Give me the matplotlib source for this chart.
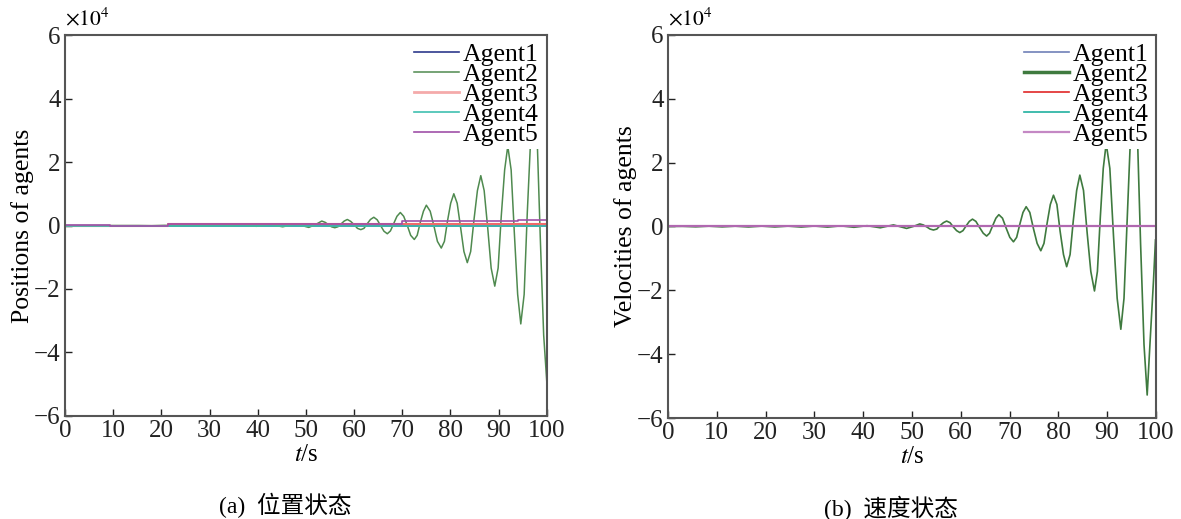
import matplotlib
matplotlib.use('Agg')
import matplotlib.pyplot as plt

plt.rcParams['font.family'] = ['Liberation Serif', 'Noto Sans CJK SC']
plt.rcParams['mathtext.fontset'] = 'stix'

agents = ['Agent1', 'Agent2', 'Agent3', 'Agent4', 'Agent5']
x_ticks = [0, 10, 20, 30, 40, 50, 60, 70, 80, 90, 100]
y_ticks = [-6, -4, -2, 0, 2, 4, 6]

# (a) positions, values in units of 1e4
pos_t_green = [0, 1.7, 4.4, 7.1, 9.8, 12.6, 15.3, 18.0, 20.7, 23.4, 26.2, 28.9, 31.6,
               34.3, 37.0, 39.7, 42.5, 45.2, 47.9, 50.6, 52.0,
               53.3, 54.0, 54.65, 55.3, 56.0, 56.65, 57.3, 57.95, 58.6, 59.3, 60.0, 60.7,
               61.4, 62.05, 62.75, 63.4, 64.1, 64.8, 65.5, 66.2, 66.9, 67.55, 68.25, 68.9,
               69.6, 70.3, 71.05, 71.75, 72.5, 73.1, 73.75, 74.4, 75.0, 75.8, 76.55, 77.3,
               78.1, 78.75, 79.4, 80.05, 80.7, 81.4, 82.1, 82.8, 83.5, 84.2, 84.9, 85.6,
               86.3, 87.0, 87.75, 88.45, 89.2, 89.9, 90.55, 91.25, 91.9, 92.6, 93.25, 93.95,
               94.6, 95.3, 95.95, 96.65, 97.3, 98.0, 98.65, 99.35, 100]
pos_y_green = [0, 0.0, 0.0, 0.0, 0.0, 0.0, 0.0, -0.005, 0.005, -0.006, 0.008, -0.01, 0.012,
               -0.015, 0.02, -0.025, 0.03, -0.04, 0.05, -0.06, 0.03,
               0.14, 0.10, 0.03, -0.04, -0.07, -0.04, 0.05, 0.14, 0.19, 0.13, 0.03, -0.09,
               -0.13, -0.09, 0.06, 0.19, 0.26, 0.18, 0.0, -0.18, -0.26, -0.17, 0.07, 0.29,
               0.41, 0.29, 0.0, -0.31, -0.44, -0.31, 0.1, 0.45, 0.64, 0.45, 0.0, -0.5,
               -0.71, -0.5, 0.15, 0.7, 1.0, 0.7, -0.05, -0.82, -1.17, -0.82, 0.2, 1.1,
               1.57, 1.1, -0.1, -1.34, -1.91, -1.34, 0.3, 1.75, 2.5, 1.75, -0.2, -2.17,
               -3.1, -2.17, 0.4, 2.73, 3.9, 2.73, -0.4, -3.45, -4.93]
pos_t_flat = [0, 100]
pos_y_flat = [0, 0]
pos_t_red = [0, 21.4, 21.4, 100]
pos_y_red = [0, 0, 0.04, 0.04]
pos_t_purple = [0, 9.3, 9.3, 21.4, 21.4, 69.9, 69.9, 94, 94, 100]
pos_y_purple = [0.02, 0.02, 0.0, 0.0, 0.06, 0.06, 0.13, 0.13, 0.17, 0.17]

# (b) velocities, values in units of 1e4
vel_t_green = [0, 3.0, 5.7, 8.4, 11.1, 13.8, 16.5, 19.2, 21.9, 24.6, 27.3, 30.0, 32.7,
               35.4, 38.1, 40.8, 43.5, 46.2, 48.9, 50.25,
               51.6, 52.3, 53.0, 53.7, 54.4, 55.1, 55.75, 56.45, 57.1, 57.8, 58.45, 59.15,
               59.8, 60.45, 61.1, 61.75, 62.4, 63.1, 63.85, 64.6, 65.3, 65.9, 66.55, 67.2,
               67.8, 68.55, 69.3, 70.05, 70.8, 71.45, 72.1, 72.75, 73.4, 74.15, 74.9, 75.65,
               76.4, 77.05, 77.7, 78.35, 79.0, 79.7, 80.35, 81.05, 81.7, 82.4, 83.05, 83.75,
               84.4, 85.15, 85.9, 86.65, 87.4, 88.0, 88.6, 89.2, 89.8, 90.55, 91.3, 92.05,
               92.8, 93.45, 94.15, 94.8, 95.5, 96.2, 96.85, 97.55, 98.2, 98.8, 99.5, 99.9]
vel_y_green = [0, 0.005, -0.01, 0.01, -0.012, 0.01, -0.015, 0.012, -0.015, 0.012, -0.018, 0.015, -0.02,
               0.02, -0.025, 0.025, -0.04, 0.05, -0.06, 0.0,
               0.08, 0.05, -0.01, -0.08, -0.11, -0.08, 0.03, 0.12, 0.17, 0.12, -0.01, -0.13,
               -0.19, -0.13, 0.02, 0.16, 0.23, 0.16, -0.03, -0.21, -0.30, -0.21, 0.03, 0.26,
               0.37, 0.26, -0.05, -0.34, -0.48, -0.34, 0.07, 0.44, 0.62, 0.44, -0.07, -0.53,
               -0.76, -0.53, 0.11, 0.69, 0.98, 0.69, -0.14, -0.88, -1.26, -0.88, 0.17, 1.13,
               1.61, 1.13, -0.2, -1.41, -2.02, -1.41, 0.3, 1.82, 2.6, 1.82, -0.3, -2.25,
               -3.22, -2.25, 0.4, 2.87, 4.1, 2.87, -0.55, -3.7, -5.28, -3.6, -1.68, -0.42]
vel_t_flat = [0, 100]
vel_y_flat = [0, 0]

pos_colors = ['#2e3a8c', '#4f8a4f', '#f06a6a', '#40c0b0', '#a050a8']
vel_colors = ['#7080b8', '#3f7a3f', '#e02828', '#20b0a0', '#c488c4']

fig = plt.figure(figsize=(11.81, 5.19), dpi=100)
ax1 = fig.add_axes([0.055, 0.1985, 0.408, 0.734])
ax2 = fig.add_axes([0.5656, 0.1946, 0.4132, 0.738])

ax1.plot(pos_t_flat, pos_y_flat, color=pos_colors[0], lw=1.2, label=agents[0])
ax1.plot(pos_t_green, pos_y_green, color=pos_colors[1], lw=1.1, label=agents[1])
ax1.plot(pos_t_red, pos_y_red, color=pos_colors[2], lw=1.5, label=agents[2])
ax1.plot(pos_t_flat, pos_y_flat, color=pos_colors[3], lw=1.2, label=agents[3])
ax1.plot(pos_t_purple, pos_y_purple, color=pos_colors[4], lw=1.2, label=agents[4])

ax2.plot(vel_t_flat, vel_y_flat, color=vel_colors[0], lw=1.2, label=agents[0])
ax2.plot(vel_t_green, vel_y_green, color=vel_colors[1], lw=1.2, label=agents[1])
ax2.plot(vel_t_flat, vel_y_flat, color=vel_colors[2], lw=1.2, label=agents[2])
ax2.plot(vel_t_flat, vel_y_flat, color=vel_colors[3], lw=1.2, label=agents[3])
ax2.plot(vel_t_flat, vel_y_flat, color='#b068b0', lw=1.6, label=agents[4])

for ax, ylab, cap in [(ax1, 'Positions of agents', '(a)  位置状态'),
                      (ax2, 'Velocities of agents', '(b)  速度状态')]:
    ax.set_xlim(0, 100)
    ax.set_ylim(-6, 6)
    ax.set_xticks(x_ticks)
    ax.set_yticks(y_ticks)
    ax.tick_params(direction='in', length=5, width=1, labelsize=18, pad=3,
                   top=False, right=False, colors='#222222')
    for s in ax.spines.values():
        s.set_color('#555555')
        s.set_linewidth(1.5)
    ax.set_ylabel(ylab, fontsize=18.5, labelpad=0)
    ax.set_xlabel('$t$/s', fontsize=18, labelpad=1)
    ax.text(0.0, 1.012, r'$\times10^4$', transform=ax.transAxes, fontsize=15.5,
            ha='left', va='bottom')
    ax.text(0.457, -0.235, cap, transform=ax.transAxes, fontsize=17, ha='center',
            va='center')
    leg = ax.legend(loc='upper right', frameon=True, fancybox=False, fontsize=18.5,
                    labelspacing=-0.11, handlelength=1.75, handletextpad=0.15,
                    borderaxespad=0.2, borderpad=0.1, framealpha=1.0)
    leg.get_frame().set_edgecolor('none')
    leg.get_frame().set_facecolor('white')

# legend handle colours as shown in the key
for line, c in zip(ax2.get_legend().get_lines(), vel_colors):
    line.set_color(c)
ax2.get_legend().get_lines()[1].set_linewidth(2.5)
for line, c in zip(ax1.get_legend().get_lines(), pos_colors):
    line.set_color(c)
ax1.get_legend().get_lines()[2].set_color('#f4aaaa')
ax1.get_legend().get_lines()[2].set_linewidth(2.0)

fig.savefig('out.png', dpi=100)
